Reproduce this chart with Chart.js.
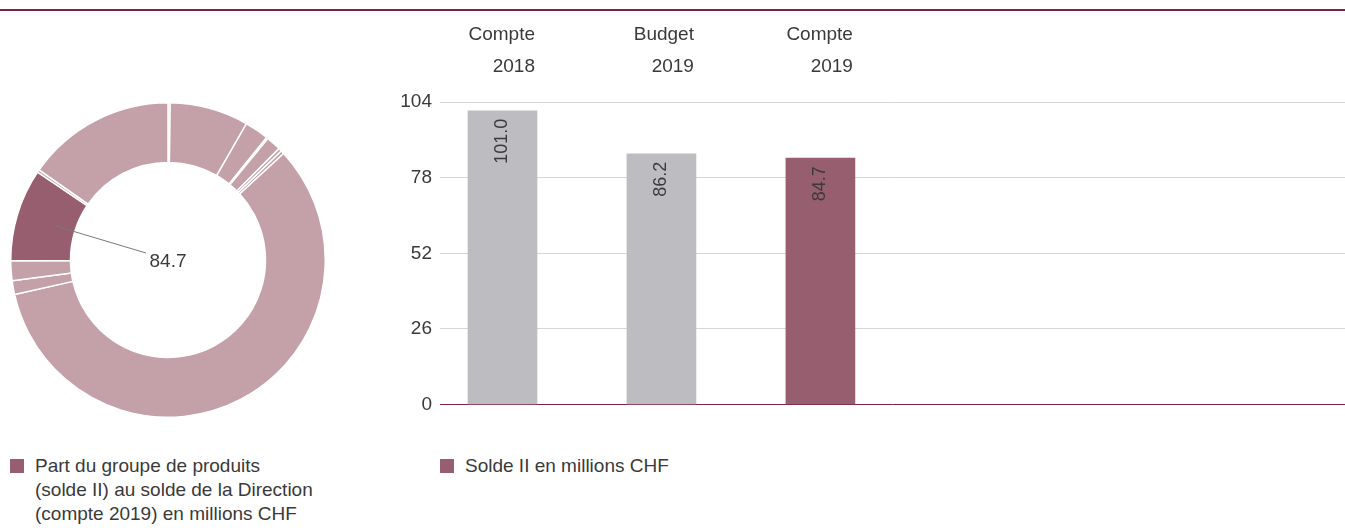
<!DOCTYPE html>
<html lang="fr">
<head>
<meta charset="utf-8">
<title>Solde II en millions CHF</title>
<script src="https://cdn.jsdelivr.net/npm/chart.js@4/dist/chart.umd.min.js"></script>
<style>
  html, body { margin: 0; padding: 0; background: #fff; }
  body { width: 1345px; height: 528px; position: relative; overflow: hidden;
         font-family: "Liberation Sans", Arial, sans-serif; color: #3a3a3a; }
  .topline { position: absolute; left: 0; top: 9px; width: 1345px; height: 2px; background: #7d1f4b; }
  #donutWrap { position: absolute; left: 10px; top: 102px; width: 316px; height: 316px; }
  #barWrap { position: absolute; left: 380px; top: 0; width: 965px; height: 424px; }
  .legend { position: absolute; top: 454px; font-size: 19px; line-height: 24px; }
  .legend .sw { position: absolute; left: 0; top: 5px; width: 14px; height: 14px; background: #975e70; }
  .legend .tx { margin-left: 25px; white-space: nowrap; }
</style>
</head>
<body>
<div class="topline"></div>
<div id="donutWrap"><canvas id="donut" width="316" height="316"></canvas></div>
<div id="barWrap"><canvas id="bars" width="965" height="424"></canvas></div>

<div class="legend" style="left:10px;">
  <div class="sw"></div>
  <div class="tx">Part du groupe de produits<br>(solde II) au solde de la Direction<br>(compte 2019) en millions CHF</div>
</div>
<div class="legend" style="left:440px;">
  <div class="sw"></div>
  <div class="tx">Solde II en millions CHF</div>
</div>

<script>
// Share of each product group in the Direction balance (account 2019), clockwise from 12 o'clock
const groupValues = [2, 72, 22, 1.5, 13.5, 3, 3, 519, 12.5, 18, 84.7, 2.5, 136];
const highlightIndex = 10; // the product group shown in this report

// Balance II over time
const periods = [["Compte", "2018"], ["Budget", "2019"], ["Compte", "2019"]];
const balance = [101.0, 86.2, 84.7];
const yTicks = [0, 26, 52, 78, 104];

const LIGHT = '#c4a0a9';
const DARK = '#975e70';
const GREY = '#bdbdc1';
const MAROON = '#7d1f4b';
const TEXT = '#3a3a3a';
const FONT = '"Liberation Sans", Arial, sans-serif';

Chart.defaults.font.family = FONT;
Chart.defaults.color = TEXT;

// Leader line from the highlighted slice to the value in the centre
const donutLabel = {
  id: 'donutLabel',
  afterDatasetsDraw(chart) {
    const arc = chart.getDatasetMeta(0).data[highlightIndex];
    const { x, y, startAngle, endAngle, innerRadius, outerRadius } = arc.getProps(
      ['x', 'y', 'startAngle', 'endAngle', 'innerRadius', 'outerRadius'], true);
    const mid = (startAngle + endAngle) / 2;
    const r = innerRadius + (outerRadius - innerRadius) * 0.33;
    const ctx = chart.ctx;
    ctx.save();
    ctx.strokeStyle = '#7a7a7a';
    ctx.lineWidth = 1;
    ctx.beginPath();
    ctx.moveTo(x + Math.cos(mid) * r, y + Math.sin(mid) * r);
    ctx.lineTo(x - 22, y - 7);
    ctx.stroke();
    ctx.fillStyle = TEXT;
    ctx.font = '19px ' + FONT;
    ctx.textAlign = 'center';
    ctx.textBaseline = 'middle';
    ctx.fillText(groupValues[highlightIndex].toFixed(1), x, y + 2);
    ctx.restore();
  }
};

new Chart(document.getElementById('donut'), {
  type: 'doughnut',
  data: {
    labels: groupValues.map((_, i) => 'Groupe ' + (i + 1)),
    datasets: [{
      data: groupValues,
      backgroundColor: groupValues.map((_, i) => i === highlightIndex ? DARK : LIGHT),
      borderColor: '#ffffff',
      borderWidth: 1.5,
      hoverOffset: 0
    }]
  },
  options: {
    responsive: false,
    animation: false,
    cutout: '62%',
    layout: { padding: 0 },
    plugins: { legend: { display: false }, tooltip: { enabled: false } }
  },
  plugins: [donutLabel]
});

// Period headings above the bars and rotated values inside them
const barLabels = {
  id: 'barLabels',
  afterDatasetsDraw(chart) {
    const ctx = chart.ctx;
    const bars = chart.getDatasetMeta(0).data;
    ctx.save();
    ctx.fillStyle = TEXT;
    bars.forEach((bar, i) => {
      const right = bar.x + bar.width / 2 - 2;
      ctx.font = '19px ' + FONT;
      ctx.textAlign = 'right';
      ctx.textBaseline = 'middle';
      periods[i].forEach((line, k) => ctx.fillText(line, right, 35 + k * 32));

      ctx.save();
      ctx.translate(bar.x, bar.y + 8);
      ctx.rotate(-Math.PI / 2);
      ctx.font = '18px ' + FONT;
      ctx.textAlign = 'right';
      ctx.textBaseline = 'middle';
      ctx.fillText(balance[i].toFixed(1), 0, 0);
      ctx.restore();
    });
    ctx.restore();
  }
};

new Chart(document.getElementById('bars'), {
  type: 'bar',
  data: {
    labels: periods.map(p => p.join(' ')),
    datasets: [{
      data: balance.map((v, i) => ({ x: i, y: v })),
      backgroundColor: balance.map((_, i) => i === balance.length - 1 ? DARK : GREY),
      borderWidth: 0,
      barThickness: 69
    }]
  },
  options: {
    responsive: false,
    animation: false,
    layout: { padding: { top: 102, bottom: 12, left: 0, right: 0 } },
    scales: {
      x: {
        type: 'linear',
        min: -0.393,
        max: 5.3,
        offset: false,
        display: false
      },
      y: {
        min: 0,
        max: 104,
        afterFit(scale) { scale.width = 60; },
        afterBuildTicks(scale) { scale.ticks = yTicks.map(v => ({ value: v })); },
        border: { display: false },
        grid: {
          drawTicks: false,
          lineWidth: 1,
          color: ctx => ctx.tick && ctx.tick.value === 0 ? MAROON : '#d6d6d6'
        },
        ticks: {
          padding: 8,
          color: TEXT,
          font: { size: 19 }
        }
      }
    },
    plugins: { legend: { display: false }, tooltip: { enabled: false } }
  },
  plugins: [barLabels]
});
</script>
</body>
</html>
